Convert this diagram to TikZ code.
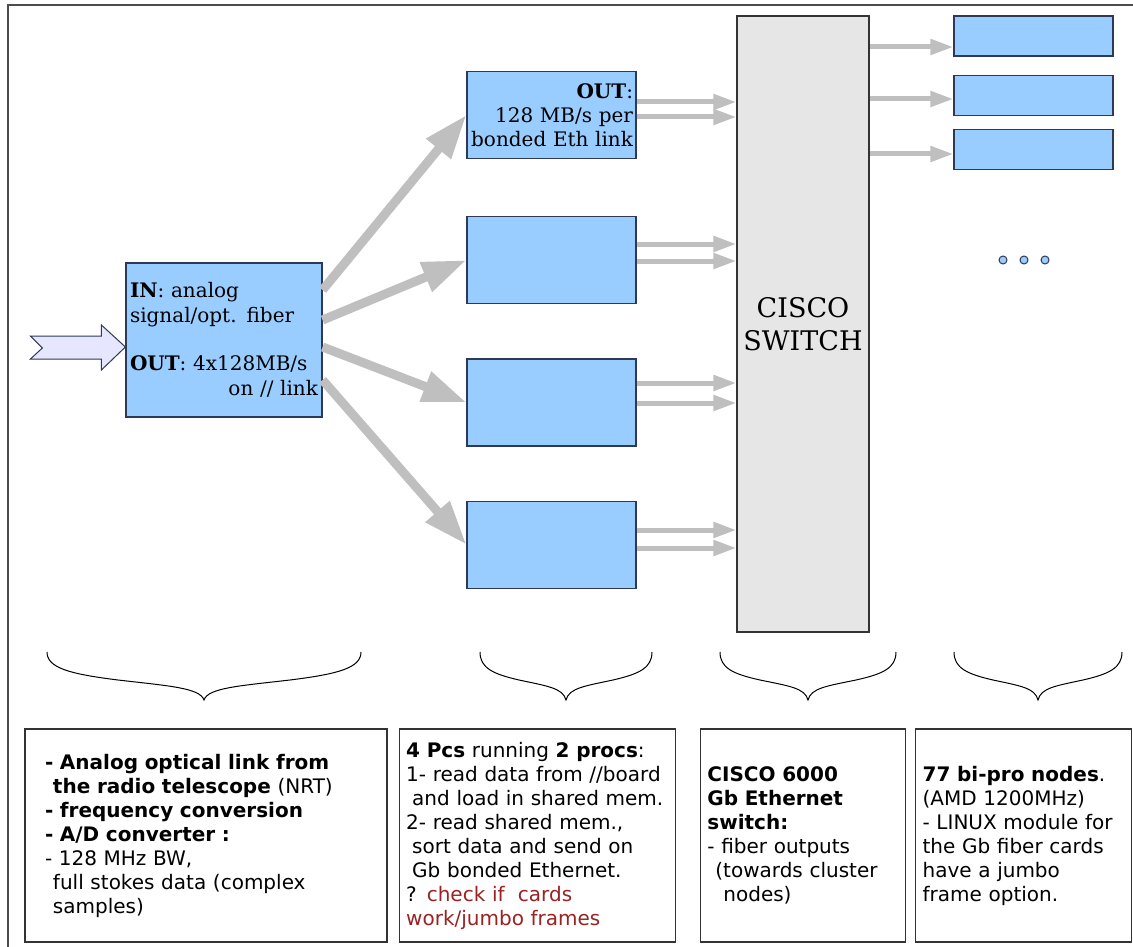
\documentclass[tikz,border=0pt]{standalone}
\usepackage{fontspec}
\setmainfont{DejaVu Serif}
\setsansfont{DejaVu Sans}
\usetikzlibrary{arrows.meta,positioning}
\definecolor{boxblue}{HTML}{99CCFF}
\definecolor{boxline}{HTML}{2E3A55}
\definecolor{swgray}{HTML}{E6E6E6}
\definecolor{arrgray}{HTML}{BFBFBF}
\definecolor{inblue}{HTML}{E6E6FF}
\definecolor{notered}{HTML}{992222}
\tikzset{
bluebox/.style={draw=boxline,fill=boxblue,line width=1.2pt,inner sep=0pt},
midbox/.style={bluebox,minimum width=169pt,minimum height=87pt},
endbox/.style={bluebox,minimum width=159pt,minimum height=40pt},
switchbox/.style={draw=black!80,fill=swgray,line width=1.2pt,minimum width=132pt,minimum height=616pt,align=center,font=\fontsize{27}{33}\selectfont},
infobox/.style={draw=black!80,line width=1.2pt,minimum height=213pt,inner xsep=7pt,align=left,font=\sffamily\fontsize{20}{24}\selectfont},
fan/.style={draw=arrgray,line width=9pt,-{Triangle[length=44pt,width=30pt]}},
link/.style={draw=arrgray,line width=5pt,-{Triangle[length=23pt,width=15pt]}},
dots/.style={circle,draw=boxline,fill=boxblue,line width=1pt,inner sep=0pt,minimum size=8pt},
brace/.style={draw=black,line width=1pt}}

\begin{document}
\begin{tikzpicture}[x=1pt,y=-1pt]

\useasboundingbox (0,0) rectangle (1133,947);
\draw[black!70,line width=1.5pt] (8,947) -- (8,5) -- (1133,5);

\node[bluebox,minimum width=196pt,minimum height=154pt,text width=188pt,align=left,font=\fontsize{20}{25}\selectfont] (lbox) at (224,340)
	{\textbf{IN}: analog\\signal/opt. fiber\\[23pt]\textbf{OUT}: 4x128MB/s\\\hspace*{\fill}on // link};

\node[midbox,text width=163pt,align=right,font=\fontsize{20}{24}\selectfont] (m1) at (551.5,115)
	{\textbf{OUT}:\\128 MB/s per\\bonded Eth link};
\node[midbox,below=57pt of m1] (m2) {};
\node[midbox,below=54pt of m2] (m3) {};
\node[midbox,below=54pt of m3] (m4) {};

\node[switchbox] (sw) at (803,324) {CISCO\\SWITCH};

\node[endbox] (r1) at (1033.5,36) {};
\node[endbox,below=18pt of r1] (r2) {};
\node[endbox,below=13pt of r2] (r3) {};

\node[dots] (d1) at (1003,260) {};
\node[dots,right=12pt of d1] (d2) {};
\node[dots,right=12pt of d2] (d3) {};

\draw[fill=inblue,draw=boxline,line width=1pt] (lbox.west |- 0,347) -- ++(-24,-22) -- ++(0,11) -- ++(-71,0)
	-- ++(12,12) -- ++(-12,11) -- ++(71,0) -- ++(0,11) -- cycle;

\draw[fan] (lbox.east |- 0,290) -- (m1.west);
\draw[fan] (lbox.east |- 0,320) -- (m2.west);
\draw[fan] (lbox.east |- 0,347) -- (m3.west);
\draw[fan] (lbox.east |- 0,380) -- (m4.west);

\draw[link] (m1.east |- 0,102) -- (sw.west |- 0,102);
\draw[link] (m1.east |- 0,117) -- (sw.west |- 0,117);
\draw[link] (m2.east |- 0,244) -- (sw.west |- 0,244);
\draw[link] (m2.east |- 0,261) -- (sw.west |- 0,261);
\draw[link] (m3.east |- 0,383) -- (sw.west |- 0,383);
\draw[link] (m3.east |- 0,403) -- (sw.west |- 0,403);
\draw[link] (m4.east |- 0,530) -- (sw.west |- 0,530);
\draw[link] (m4.east |- 0,548) -- (sw.west |- 0,548);

\draw[link] (sw.east |- 0,47) -- (r1.west |- 0,47);
\draw[link] (sw.east |- 0,99) -- (r2.west |- 0,99);
\draw[link] (sw.east |- 0,154) -- (r3.west |- 0,154);

\draw[brace] (47,652) .. controls (47,668) and (70,674) .. (118,680) .. controls (170,686) and (200,688) .. (204,700)
	.. controls (208,688) and (238,686) .. (290,680) .. controls (338,674) and (361,668) .. (361,652);
\draw[brace] (480,652) .. controls (480,668) and (493,674) .. (519,680) .. controls (547,686) and (563,688) .. (566,700)
	.. controls (569,688) and (585,686) .. (613,680) .. controls (639,674) and (652,668) .. (652,652);
\draw[brace] (720,652) .. controls (720,668) and (733,674) .. (760,680) .. controls (789,686) and (805,688) .. (808,700)
	.. controls (811,688) and (827,686) .. (856,680) .. controls (883,674) and (896,668) .. (896,652);
\draw[brace] (954,652) .. controls (954,668) and (967,674) .. (993,680) .. controls (1021,686) and (1035,688) .. (1038,700)
	.. controls (1041,688) and (1055,686) .. (1083,680) .. controls (1109,674) and (1122,668) .. (1122,652);

\node[infobox,text width=322pt,inner xsep=20pt] (b1) at (206,835.5)
	{\textbf{- Analog optical link from}\\\hspace*{0.4em}\textbf{the radio telescope} (NRT)\\\textbf{- frequency conversion}\\\textbf{- A/D converter :}\\- 128 MHz BW,\\\hspace*{0.4em}full stokes data (complex\\\hspace*{0.4em}samples)};
\node[infobox,text width=262pt,right=11pt of b1] (b2)
	{\textbf{4 Pcs} running \textbf{2 procs}:\\1- read data from //board\\\hspace*{0.3em}and load in shared mem.\\2- read shared mem.,\\\hspace*{0.3em}sort data and send on\\\hspace*{0.3em}Gb bonded Ethernet.\\? \textcolor{notered}{check if\ \ cards}\\\textcolor{notered}{work/jumbo frames}};
\node[infobox,text width=191pt,right=24pt of b2] (b3)
	{\textbf{CISCO 6000}\\\textbf{Gb Ethernet}\\\textbf{switch:}\\- fiber outputs\\\hspace*{0.4em}(towards cluster\\\hspace*{0.8em}nodes)};
\node[infobox,text width=202pt,right=9pt of b3] (b4)
	{\textbf{77 bi-pro nodes}.\\(AMD 1200MHz)\\- LINUX module for\\the Gb fiber cards\\have a jumbo\\frame option.};
\end{tikzpicture}
\end{document}
